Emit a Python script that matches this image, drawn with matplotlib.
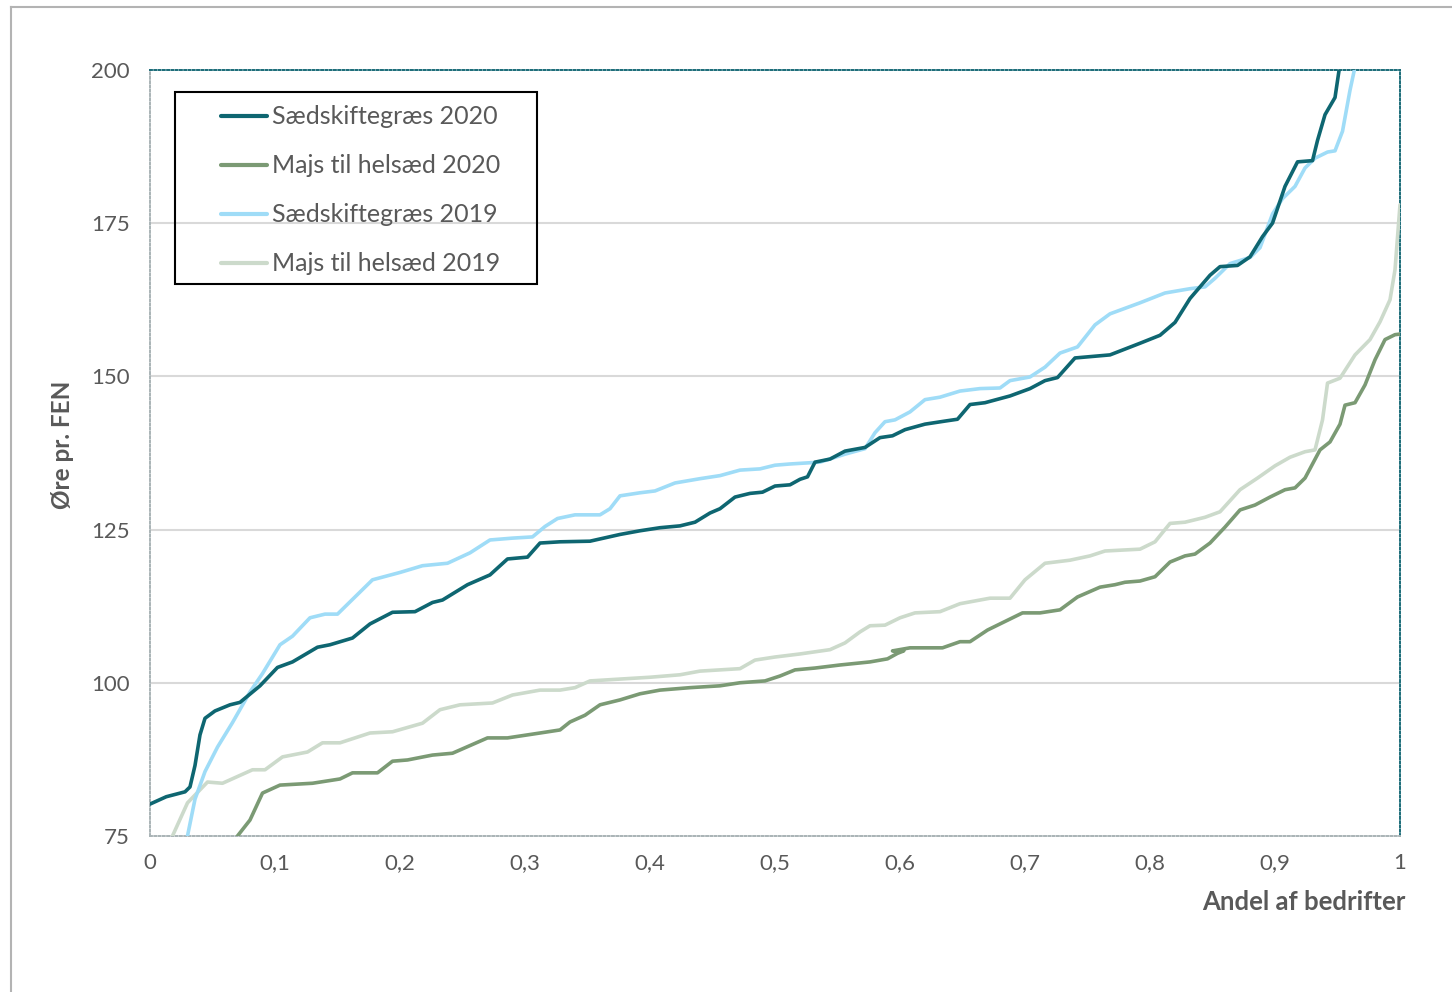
import matplotlib.pyplot as plt
from matplotlib.lines import Line2D
from matplotlib.patches import Rectangle

plt.rcParams['font.family'] = ['Lato', 'DejaVu Sans']

# Sædskiftegræs 2020
sg20_x = [0.000, 0.013, 0.028, 0.032, 0.036, 0.040, 0.044, 0.052, 0.064, 0.072, 0.088, 0.102,
          0.114, 0.134, 0.144, 0.162, 0.176, 0.194, 0.212, 0.226, 0.234, 0.254, 0.272, 0.286,
          0.302, 0.312, 0.328, 0.352, 0.376, 0.392, 0.408, 0.424, 0.436, 0.448, 0.456, 0.468,
          0.480, 0.490, 0.500, 0.512, 0.520, 0.526, 0.532, 0.544, 0.556, 0.572, 0.584, 0.594,
          0.604, 0.620, 0.636, 0.646, 0.656, 0.668, 0.688, 0.704, 0.716, 0.726, 0.740, 0.768,
          0.792, 0.808, 0.820, 0.832, 0.848, 0.856, 0.870, 0.880, 0.890, 0.898, 0.908, 0.918,
          0.930, 0.934, 0.940, 0.948, 0.952]
sg20_y = [80.2, 81.4, 82.2, 83.0, 86.5, 91.5, 94.2, 95.4, 96.4, 96.8, 99.5, 102.5,
          103.4, 105.8, 106.2, 107.3, 109.6, 111.5, 111.6, 113.1, 113.5, 116.0, 117.6, 120.2,
          120.5, 122.8, 123.0, 123.1, 124.2, 124.8, 125.3, 125.6, 126.2, 127.7, 128.4, 130.3,
          130.9, 131.1, 132.1, 132.3, 133.2, 133.6, 136.0, 136.5, 137.8, 138.4, 140.0, 140.3,
          141.3, 142.2, 142.7, 143.0, 145.4, 145.7, 146.8, 148.0, 149.3, 149.8, 153.0, 153.5,
          155.4, 156.7, 158.8, 162.7, 166.5, 167.9, 168.1, 169.5, 172.8, 175.0, 181.0, 185.0,
          185.2, 188.5, 192.7, 195.5, 201.0]

# Majs til helsæd 2020
mh20_x = [0.070, 0.080, 0.090, 0.104, 0.130, 0.152, 0.162, 0.182, 0.194, 0.206, 0.226, 0.242,
          0.270, 0.286, 0.312, 0.328, 0.336, 0.348, 0.360, 0.376, 0.392, 0.408, 0.432, 0.456,
          0.472, 0.492, 0.504, 0.516, 0.532, 0.552, 0.576, 0.590, 0.598, 0.603, 0.594, 0.608,
          0.634, 0.648, 0.656, 0.670, 0.686, 0.698, 0.712, 0.728, 0.742, 0.760, 0.772, 0.780,
          0.792, 0.804, 0.816, 0.828, 0.836, 0.848, 0.860, 0.872, 0.884, 0.896, 0.908, 0.916,
          0.924, 0.936, 0.944, 0.952, 0.956, 0.964, 0.972, 0.980, 0.988, 0.996, 1.000]
mh20_y = [75.0, 77.6, 82.0, 83.3, 83.6, 84.3, 85.3, 85.3, 87.2, 87.4, 88.2, 88.5,
          91.0, 91.0, 91.8, 92.3, 93.6, 94.7, 96.4, 97.2, 98.2, 98.8, 99.2, 99.5,
          100.0, 100.3, 101.1, 102.1, 102.4, 102.9, 103.4, 103.9, 104.8, 105.2, 105.2, 105.7,
          105.7, 106.7, 106.7, 108.6, 110.2, 111.4, 111.4, 111.9, 114.0, 115.6, 116.0, 116.4,
          116.6, 117.3, 119.7, 120.7, 121.0, 122.8, 125.4, 128.2, 129.0, 130.3, 131.5, 131.8,
          133.4, 138.0, 139.3, 142.2, 145.3, 145.7, 148.6, 152.7, 156.0, 156.8, 156.9]

# Sædskiftegræs 2019
sg19_x = [0.030, 0.036, 0.044, 0.054, 0.066, 0.080, 0.090, 0.104, 0.114, 0.128, 0.140, 0.150,
          0.178, 0.200, 0.218, 0.238, 0.256, 0.272, 0.290, 0.306, 0.316, 0.326, 0.340, 0.360,
          0.368, 0.376, 0.392, 0.404, 0.420, 0.440, 0.456, 0.472, 0.488, 0.500, 0.512, 0.536,
          0.556, 0.572, 0.580, 0.588, 0.596, 0.608, 0.620, 0.632, 0.648, 0.664, 0.680, 0.688,
          0.704, 0.716, 0.728, 0.742, 0.756, 0.768, 0.792, 0.812, 0.832, 0.844, 0.852, 0.864,
          0.880, 0.888, 0.898, 0.906, 0.916, 0.924, 0.932, 0.942, 0.948, 0.954, 0.960, 0.964]
sg19_y = [75.0, 81.0, 85.5, 89.5, 93.5, 98.5, 101.5, 106.2, 107.6, 110.6, 111.2, 111.2,
          116.8, 118.0, 119.1, 119.5, 121.2, 123.3, 123.6, 123.8, 125.5, 126.8, 127.4, 127.4,
          128.4, 130.5, 131.0, 131.3, 132.6, 133.3, 133.8, 134.7, 134.9, 135.5, 135.7, 136.0,
          137.3, 138.2, 140.8, 142.6, 142.9, 144.2, 146.2, 146.6, 147.6, 148.0, 148.1, 149.3,
          149.9, 151.5, 153.8, 154.8, 158.4, 160.2, 162.0, 163.6, 164.3, 164.6, 166.0, 168.4,
          169.4, 171.0, 176.5, 179.0, 181.0, 184.0, 185.6, 186.6, 186.8, 190.0, 196.7, 200.5]

# Majs til helsæd 2019
mh19_x = [0.018, 0.030, 0.046, 0.058, 0.082, 0.092, 0.106, 0.126, 0.138, 0.152, 0.176, 0.194,
          0.218, 0.232, 0.248, 0.274, 0.290, 0.312, 0.328, 0.340, 0.352, 0.376, 0.400, 0.424,
          0.440, 0.472, 0.484, 0.500, 0.520, 0.544, 0.556, 0.568, 0.576, 0.588, 0.600, 0.612,
          0.632, 0.648, 0.672, 0.688, 0.700, 0.716, 0.736, 0.752, 0.764, 0.792, 0.804, 0.816,
          0.828, 0.844, 0.856, 0.872, 0.886, 0.900, 0.912, 0.924, 0.932, 0.938, 0.942, 0.952,
          0.964, 0.976, 0.984, 0.992, 0.996, 1.000]
mh19_y = [75.0, 80.4, 83.8, 83.6, 85.8, 85.8, 87.9, 88.7, 90.2, 90.2, 91.8, 92.0,
          93.4, 95.6, 96.4, 96.7, 98.0, 98.8, 98.8, 99.2, 100.3, 100.6, 100.9, 101.3,
          101.9, 102.3, 103.7, 104.2, 104.7, 105.4, 106.5, 108.3, 109.3, 109.4, 110.6, 111.4,
          111.6, 112.9, 113.8, 113.8, 116.8, 119.5, 120.0, 120.7, 121.5, 121.8, 123.0, 126.0,
          126.2, 127.0, 127.9, 131.5, 133.4, 135.4, 136.8, 137.7, 138.0, 142.9, 148.9, 149.7,
          153.5, 156.0, 158.9, 162.5, 167.4, 178.0]

labels = ['Sædskiftegræs 2020', 'Majs til helsæd 2020', 'Sædskiftegræs 2019', 'Majs til helsæd 2019']
colors = ['#0e6671', '#7b9a74', '#9fdcf7', '#ccdacb']
xticks = [0, 0.1, 0.2, 0.3, 0.4, 0.5, 0.6, 0.7, 0.8, 0.9, 1]
xticklabels = ['0', '0,1', '0,2', '0,3', '0,4', '0,5', '0,6', '0,7', '0,8', '0,9', '1']
yticks = [75, 100, 125, 150, 175, 200]

fig = plt.figure(figsize=(14.52, 9.92), dpi=100)
ax = fig.add_axes([0.1033, 0.1573, 0.8609, 0.7722])

series = [(sg20_x, sg20_y), (mh20_x, mh20_y), (sg19_x, sg19_y), (mh19_x, mh19_y)]
# pale lines go underneath
order = [3, 1, 2, 0]
handles = {}
for i in order:
    x, y = series[i]
    h, = ax.plot(x, y, color=colors[i], lw=2.6, solid_joinstyle='round',
                 solid_capstyle='round', label=labels[i], zorder=3)
    handles[i] = h

ax.set_xlim(0, 1)
ax.set_ylim(75, 200)
ax.set_xticks(xticks)
ax.set_xticklabels(xticklabels)
ax.set_yticks(yticks)
ax.tick_params(length=0, labelsize=16, labelcolor='#595959')
ax.tick_params(axis='y', pad=14.5)
ax.tick_params(axis='x', pad=12)

for v in [100, 125, 150, 175]:
    ax.axhline(v, color='#d9d9d9', lw=1.5, zorder=1)

for side in ['top', 'right']:
    ax.spines[side].set_color('#1a6b78')
    ax.spines[side].set_linestyle((0, (1, 1.2)))
    ax.spines[side].set_linewidth(1.4)
for side in ['left', 'bottom']:
    ax.spines[side].set_color('#a9b3b6')
    ax.spines[side].set_linestyle((0, (1, 1.2)))
    ax.spines[side].set_linewidth(1.4)

fig.text(62 / 1452, 1 - 445 / 992, 'Øre pr. FEN', rotation=90, ha='center', va='center',
         fontsize=17.5, fontweight='bold', color='#595959')
ax.text(1.004, -0.086, 'Andel af bedrifter', transform=ax.transAxes, ha='right', va='center',
        fontsize=18.5, fontweight='bold', color='#595959')

# legend entries without frame, frame drawn separately
leg = ax.legend([handles[i] for i in range(4)], labels, loc='upper left',
                bbox_to_anchor=(0.047, 0.970), frameon=False, fontsize=18,
                handlelength=1.85, handletextpad=0.2, labelspacing=1.04,
                borderpad=0, labelcolor='#595959')
for line in leg.get_lines():
    line.set_linewidth(3)
ax.add_patch(Rectangle((0.02, 0.7206), 0.2896, 0.2507, transform=ax.transAxes,
                       fill=False, edgecolor='black', lw=1.5, zorder=5, clip_on=False))

# outer frame of the picture
fig.add_artist(Line2D([11 / 1452, 11 / 1452], [0, 1 - 7 / 992], color='#b3b3b3', lw=1.5))
fig.add_artist(Line2D([11 / 1452, 1], [1 - 7 / 992, 1 - 7 / 992], color='#b3b3b3', lw=1.5))

fig.savefig('out.png', dpi=100)
